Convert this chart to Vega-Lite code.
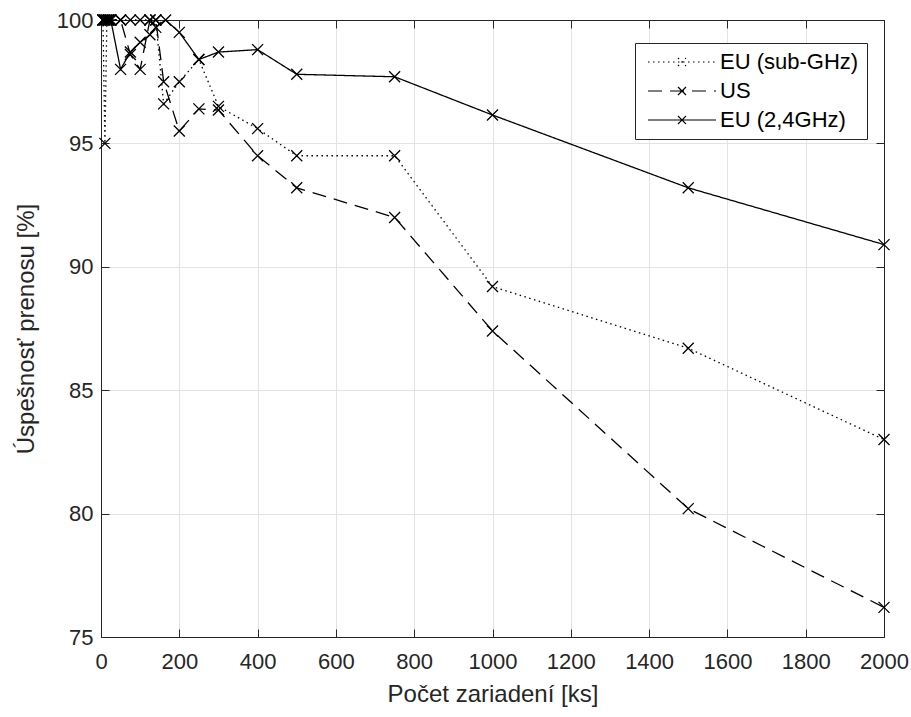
{
  "$schema": "https://vega.github.io/schema/vega-lite/v6.json",
  "width": 783,
  "height": 617,
  "autosize": {"type": "none"},
  "padding": {"left": 101, "top": 20, "right": 27, "bottom": 80},
  "background": "white",
  "config": {
    "font": "Liberation Sans",
    "view": {"stroke": "#262626", "strokeWidth": 1},
    "axis": {
      "labelFont": "Liberation Sans",
      "titleFont": "Liberation Sans",
      "labelFontSize": 22,
      "titleFontSize": 24,
      "titleFontWeight": "normal",
      "labelColor": "#262626",
      "titleColor": "#262626",
      "domainColor": "#262626",
      "tickColor": "#262626",
      "gridColor": "#e3e3e3",
      "gridOpacity": 1,
      "tickSize": -8
    }
  },
  "data": {
    "values": [
      {"s": "EU (sub-GHz)", "x": 5, "y": 100},
      {"s": "EU (sub-GHz)", "x": 10, "y": 95},
      {"s": "EU (sub-GHz)", "x": 15, "y": 100},
      {"s": "EU (sub-GHz)", "x": 20, "y": 100},
      {"s": "EU (sub-GHz)", "x": 25, "y": 100},
      {"s": "EU (sub-GHz)", "x": 50, "y": 100},
      {"s": "EU (sub-GHz)", "x": 75, "y": 100},
      {"s": "EU (sub-GHz)", "x": 100, "y": 100},
      {"s": "EU (sub-GHz)", "x": 125, "y": 100},
      {"s": "EU (sub-GHz)", "x": 140, "y": 100},
      {"s": "EU (sub-GHz)", "x": 160, "y": 96.6},
      {"s": "EU (sub-GHz)", "x": 200, "y": 97.5},
      {"s": "EU (sub-GHz)", "x": 250, "y": 98.4},
      {"s": "EU (sub-GHz)", "x": 300, "y": 96.5},
      {"s": "EU (sub-GHz)", "x": 400, "y": 95.6},
      {"s": "EU (sub-GHz)", "x": 500, "y": 94.5},
      {"s": "EU (sub-GHz)", "x": 750, "y": 94.5},
      {"s": "EU (sub-GHz)", "x": 1000, "y": 89.2},
      {"s": "EU (sub-GHz)", "x": 1500, "y": 86.7},
      {"s": "EU (sub-GHz)", "x": 2000, "y": 83.0},
      {"s": "US", "x": 5, "y": 100},
      {"s": "US", "x": 10, "y": 100},
      {"s": "US", "x": 20, "y": 100},
      {"s": "US", "x": 25, "y": 100},
      {"s": "US", "x": 50, "y": 100},
      {"s": "US", "x": 75, "y": 98.6},
      {"s": "US", "x": 100, "y": 98.0},
      {"s": "US", "x": 125, "y": 100},
      {"s": "US", "x": 140, "y": 100},
      {"s": "US", "x": 160, "y": 97.5},
      {"s": "US", "x": 200, "y": 95.5},
      {"s": "US", "x": 250, "y": 96.4},
      {"s": "US", "x": 300, "y": 96.35},
      {"s": "US", "x": 400, "y": 94.5},
      {"s": "US", "x": 500, "y": 93.2},
      {"s": "US", "x": 750, "y": 92.0},
      {"s": "US", "x": 1000, "y": 87.4},
      {"s": "US", "x": 1500, "y": 80.2},
      {"s": "US", "x": 2000, "y": 76.2},
      {"s": "EU (2,4GHz)", "x": 5, "y": 100},
      {"s": "EU (2,4GHz)", "x": 10, "y": 100},
      {"s": "EU (2,4GHz)", "x": 15, "y": 100},
      {"s": "EU (2,4GHz)", "x": 20, "y": 100},
      {"s": "EU (2,4GHz)", "x": 25, "y": 100},
      {"s": "EU (2,4GHz)", "x": 50, "y": 98.0},
      {"s": "EU (2,4GHz)", "x": 75, "y": 98.7},
      {"s": "EU (2,4GHz)", "x": 100, "y": 99.1},
      {"s": "EU (2,4GHz)", "x": 125, "y": 99.4},
      {"s": "EU (2,4GHz)", "x": 140, "y": 99.7},
      {"s": "EU (2,4GHz)", "x": 165, "y": 100},
      {"s": "EU (2,4GHz)", "x": 200, "y": 99.5},
      {"s": "EU (2,4GHz)", "x": 250, "y": 98.4},
      {"s": "EU (2,4GHz)", "x": 300, "y": 98.7},
      {"s": "EU (2,4GHz)", "x": 400, "y": 98.8},
      {"s": "EU (2,4GHz)", "x": 500, "y": 97.8},
      {"s": "EU (2,4GHz)", "x": 750, "y": 97.7},
      {"s": "EU (2,4GHz)", "x": 1000, "y": 96.15},
      {"s": "EU (2,4GHz)", "x": 1500, "y": 93.2},
      {"s": "EU (2,4GHz)", "x": 2000, "y": 90.9}
    ]
  },
  "resolve": {"axis": {"x": "independent", "y": "independent"}},
  "layer": [
    {
      "mark": {"type": "line", "strokeWidth": 1.3, "color": "black"},
      "encoding": {
        "x": {
          "field": "x", "type": "quantitative",
          "scale": {"domain": [0, 2000], "nice": false},
          "axis": {"values": [0, 200, 400, 600, 800, 1000, 1200, 1400, 1600, 1800, 2000], "format": "d", "labelPadding": 22, "labelFlush": false, "title": "Počet zariadení [ks]", "titlePadding": 10}
        },
        "y": {
          "field": "y", "type": "quantitative",
          "scale": {"domain": [75, 100], "nice": false, "zero": false},
          "axis": {"values": [75, 80, 85, 90, 95, 100], "labelPadding": 16, "title": "Úspešnosť prenosu [%]", "titlePadding": 18}
        },
        "strokeDash": {
          "field": "s", "type": "nominal",
          "scale": {"domain": ["EU (sub-GHz)", "US", "EU (2,4GHz)"], "range": [[1.5, 3.5], [14, 8], [1, 0]]},
          "legend": {
            "title": null, "orient": "none", "legendX": 534, "legendY": 23,
            "symbolType": "M-6.8,0H6.8M-0.8,-0.8L0.8,0.8M-0.8,0.8L0.8,-0.8",
            "symbolSize": 100, "symbolOffset": 28, "symbolStrokeColor": "black", "symbolStrokeWidth": 1.2,
            "labelFontSize": 22, "labelColor": "black", "labelFont": "Liberation Sans",
            "strokeColor": "#262626", "fillColor": "white", "padding": 8, "rowPadding": 7, "labelOffset": 27
          }
        }
      }
    },
    {
      "mark": {"type": "point", "shape": "M-1,-1L1,1M-1,1L1,-1", "size": 121, "filled": false, "strokeWidth": 1.3, "color": "black", "opacity": 1},
      "encoding": {
        "x": {"field": "x", "type": "quantitative", "axis": {"orient": "top", "values": [0, 200, 400, 600, 800, 1000, 1200, 1400, 1600, 1800, 2000], "labels": false, "grid": false, "title": null}},
        "y": {"field": "y", "type": "quantitative", "axis": {"orient": "right", "values": [75, 80, 85, 90, 95, 100], "labels": false, "grid": false, "title": null}},
        "detail": {"field": "s", "type": "nominal"}
      }
    }
  ]
}
